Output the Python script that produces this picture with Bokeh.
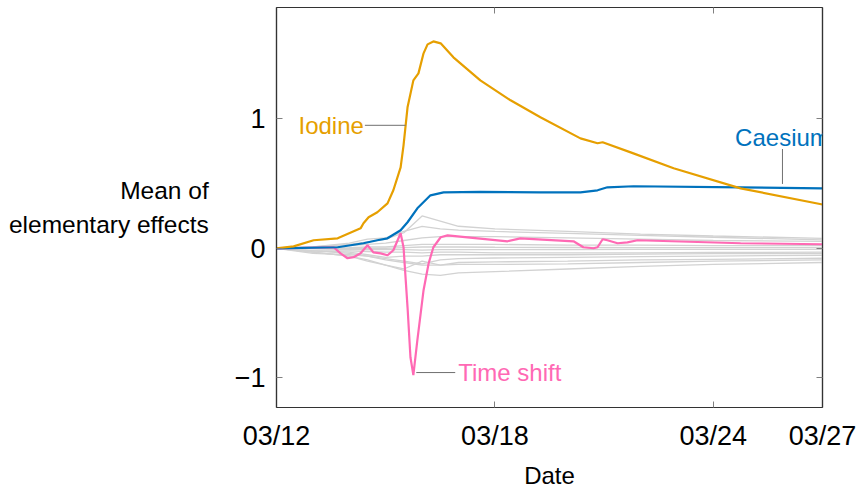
import numpy as np
from bokeh.plotting import figure
from bokeh.models import FixedTicker, LinearAxis, Label, Range1d
from bokeh.embed import file_html
from bokeh.resources import INLINE

# ---- data (days since 03/12) ----
tick_days = [0, 6, 12, 15]
tick_labels = ["03/12", "03/18", "03/24", "03/27"]
y_ticks = [-1, 0, 1]
y_tick_labels = ["\u22121", "0", "1"]

iodine_day = [0, 0.47, 1.02, 1.68, 2.31, 2.39, 2.53, 2.77, 3.05, 3.21, 3.41, 3.49, 3.60,
              3.76, 3.90, 4.04, 4.15, 4.31, 4.51, 4.86, 5.60, 6.43, 7.25, 8.35, 8.82, 8.96,
              9.73, 10.91, 12.75, 15.0]
iodine_val = [0, 0.015, 0.062, 0.077, 0.154, 0.193, 0.24, 0.278, 0.347, 0.448, 0.625, 0.795,
              1.089, 1.297, 1.351, 1.506, 1.575, 1.598, 1.583, 1.475, 1.297, 1.143, 1.012,
              0.849, 0.811, 0.819, 0.741, 0.618, 0.463, 0.338]

caesium_day = [0, 1.68, 2.39, 2.77, 3.05, 3.41, 3.60, 3.87, 4.23, 4.59, 5.6, 7.25, 8.35,
               8.82, 9.09, 9.81, 12.75, 15.0]
caesium_val = [0, 0.008, 0.039, 0.062, 0.077, 0.139, 0.201, 0.309, 0.409, 0.432, 0.435,
               0.432, 0.432, 0.448, 0.471, 0.479, 0.471, 0.463]

shift_day = [0, 1.57, 1.76, 1.95, 2.12, 2.31, 2.50, 2.66, 2.86, 3.05, 3.21, 3.41, 3.49, 3.60,
             3.68, 3.76, 3.87, 4.04, 4.18, 4.31, 4.51, 4.70, 6.35, 6.70, 8.16, 8.43, 8.71,
             8.82, 8.96, 9.09, 9.37, 9.64, 9.92, 12.75, 15.0]
shift_val = [0, 0.008, -0.039, -0.077, -0.069, -0.039, 0.023, -0.031, -0.039, -0.054, -0.015,
             0.116, 0.008, -0.456, -0.842, -0.98, -0.710, -0.324, -0.116, 0.008, 0.085, 0.100,
             0.054, 0.077, 0.054, 0.008, 0.0, 0.008, 0.070, 0.062, 0.039, 0.046, 0.062, 0.039,
             0.031]

gray_day = [0, 1, 2, 2.5, 3, 3.5, 4, 4.5, 5, 6, 8, 10, 12, 15]
gray_1 = [0, 0.01, 0.03, 0.05, 0.07, 0.12, 0.25, 0.21, 0.17, 0.15, 0.13, 0.11, 0.095, 0.077]
gray_2 = [0, 0.01, 0.04, 0.07, 0.08, 0.13, 0.17, 0.15, 0.14, 0.13, 0.115, 0.10, 0.085, 0.065]
gray_3 = [0, 0.005, 0.02, 0.03, 0.04, 0.06, 0.08, 0.09, 0.09, 0.09, 0.08, 0.07, 0.06, 0.054]
gray_4 = [0, 0.0, 0.005, 0.01, 0.01, 0.02, 0.03, 0.03, 0.03, 0.03, 0.025, 0.025, 0.02, 0.02]
gray_5 = [0, 0, 0, 0, 0, 0.005, 0.01, 0.01, 0.01, 0.008, 0.006, 0.005, 0.005, 0.005]
gray_6 = [0, -0.005, -0.01, -0.01, -0.01, -0.01, -0.015, -0.01, -0.01, -0.01, -0.01, -0.008, -0.008, -0.008]
gray_7 = [0, -0.02, -0.02, -0.025, -0.03, -0.03, -0.035, -0.03, -0.03, -0.035, -0.035, -0.035, -0.032, -0.03]
gray_8 = [0, -0.02, -0.03, -0.05, -0.07, -0.06, -0.06, -0.05, -0.05, -0.05, -0.05, -0.045, -0.042, -0.039]
gray_9 = [0, -0.04, -0.05, -0.06, -0.08, -0.10, -0.12, -0.09, -0.08, -0.075, -0.07, -0.065, -0.06, -0.054]
gray_10 = [0, -0.03, -0.06, -0.09, -0.13, -0.16, -0.10, -0.13, -0.11, -0.105, -0.10, -0.09, -0.085, -0.077]
gray_11 = [0, -0.03, -0.06, -0.10, -0.13, -0.17, -0.20, -0.21, -0.19, -0.18, -0.16, -0.14, -0.125, -0.11]
gray_12 = [0, -0.02, -0.04, -0.06, -0.09, -0.11, -0.13, -0.13, -0.125, -0.125, -0.12, -0.11, -0.10, -0.09]
gray_series = [gray_1, gray_2, gray_3, gray_4, gray_5, gray_6, gray_7, gray_8, gray_9,
               gray_10, gray_11, gray_12]

ORANGE = "#E69F00"
BLUE = "#0072BD"
PINK = "#FF69B4"
FONT = "Liberation Sans"

p = figure(width=860, height=492, output_backend="svg", toolbar_location=None,
           x_range=Range1d(0, 15), y_range=Range1d(-1.23, 1.86),
           min_border_left=276, min_border_right=38, min_border_top=7, min_border_bottom=85)
p.grid.visible = False
p.outline_line_color = "#333333"
p.outline_line_width = 1.2
p.background_fill_color = "white"
p.border_fill_color = "white"

def style_axis(ax, ticks, overrides, show_labels):
    ax.ticker = FixedTicker(ticks=ticks)
    ax.major_label_overrides = overrides
    ax.minor_tick_line_color = None
    ax.major_tick_in = 6
    ax.major_tick_out = 0
    ax.major_tick_line_color = "#808080"
    ax.axis_line_color = "#333333"
    ax.axis_line_width = 1.2
    ax.major_label_text_font = FONT
    ax.major_label_text_font_size = "27px"
    ax.major_label_text_color = "black" if show_labels else None

xover = {d: s for d, s in zip(tick_days, tick_labels)}
yover = {d: s for d, s in zip(y_ticks, y_tick_labels)}
style_axis(p.xaxis[0], tick_days, xover, True)
style_axis(p.yaxis[0], y_ticks, yover, True)
p.xaxis.major_label_standoff = 13
p.yaxis.major_label_standoff = 11
p.xaxis.axis_label = "Date"
p.xaxis.axis_label_text_font = FONT
p.xaxis.axis_label_text_font_style = "normal"
p.xaxis.axis_label_text_font_size = "24px"
p.xaxis.axis_label_text_color = "black"
p.xaxis.axis_label_standoff = 8

# y-axis title: two horizontal, right-aligned lines
ya = p.yaxis[0]
ya.axis_label = "Mean of\nelementary effects"
ya.axis_label_text_font = FONT
ya.axis_label_text_font_style = "normal"
ya.axis_label_text_font_size = "24.5px"
ya.axis_label_text_color = "black"
ya.axis_label_text_line_height = 1.25
ya.axis_label_standoff = 23
try:
    ya.axis_label_orientation = "horizontal"
except Exception:
    pass
try:
    ya.axis_label_text_align = "right"
except Exception:
    pass

top = LinearAxis()
style_axis(top, tick_days, xover, False)
top.major_label_text_font_size = "0px"
p.add_layout(top, "above")
right = LinearAxis()
style_axis(right, y_ticks, yover, False)
right.major_label_text_font_size = "0px"
p.add_layout(right, "right")

for g in gray_series:
    p.line(gray_day, g, line_color="#d2d2d2", line_width=1.3)

p.line(shift_day, shift_val, line_color=PINK, line_width=2.2)
p.line(caesium_day, caesium_val, line_color=BLUE, line_width=2.2)
p.line(iodine_day, iodine_val, line_color=ORANGE, line_width=2.2)

# ---- annotations with connector lines ----
iod_y = 0.95
iod_end = float(np.interp(iod_y, iodine_val[:13], iodine_day[:13]))
iod_start = iod_end - 1.12
p.line([iod_start, iod_end], [iod_y, iod_y], line_color="#707070", line_width=1)
p.add_layout(Label(x=iod_start, y=iod_y, text="Iodine", text_align="right",
                   text_baseline="middle", x_offset=-1, text_color=ORANGE,
                   text_font=FONT, text_font_size="24px"))

cs_x = 13.9
cs_curve = float(np.interp(cs_x, caesium_day, caesium_val))
cs_top = cs_curve + 0.30
p.line([cs_x, cs_x], [cs_curve + 0.03, cs_top], line_color="#707070", line_width=1)
p.add_layout(Label(x=cs_x, y=cs_top + 0.09, text="Caesium", text_align="center",
                   text_baseline="middle", text_color=BLUE,
                   text_font=FONT, text_font_size="24px"))

ts_i = int(np.argmin(shift_val))
ts_y = shift_val[ts_i] + 0.02
ts_start = shift_day[ts_i] + 0.08
ts_end = ts_start + 1.07
p.line([ts_start, ts_end], [ts_y, ts_y], line_color="#707070", line_width=1)
p.add_layout(Label(x=ts_end, y=ts_y, text="Time shift", text_align="left",
                   text_baseline="middle", x_offset=3, text_color=PINK,
                   text_font=FONT, text_font_size="24px"))

open("out.html", "w").write(file_html(p, INLINE))
